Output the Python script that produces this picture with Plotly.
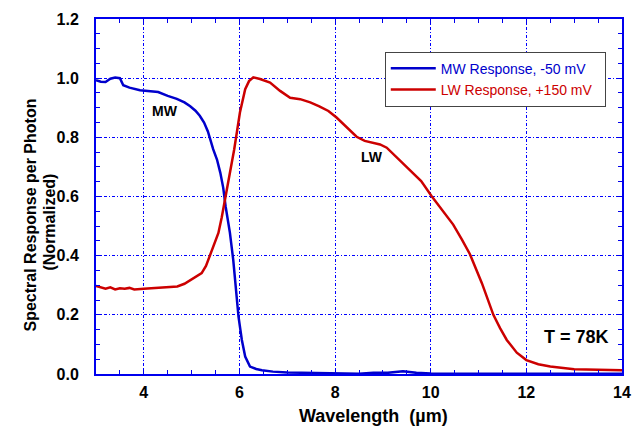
import plotly.graph_objects as go

# MW response (blue)
mw_x = [3.0, 3.1, 3.2, 3.3, 3.4, 3.5, 3.57, 3.7, 3.92, 4.1, 4.3, 4.5, 4.69, 4.85, 4.97,
        5.08, 5.17, 5.26, 5.34, 5.45, 5.53, 5.6, 5.66, 5.71, 5.80, 5.87, 5.92, 5.98,
        6.05, 6.12, 6.22, 6.35, 6.47, 6.7, 7.0, 7.5, 8.0, 8.5, 8.8, 9.1, 9.42, 9.7,
        10.0, 10.5, 11.0, 12.0, 13.0, 14.0]
mw_y = [0.993, 0.988, 0.987, 0.998, 1.002, 1.0, 0.976, 0.968, 0.959, 0.955, 0.953, 0.94,
        0.93, 0.918, 0.905, 0.89, 0.873, 0.85, 0.82, 0.76, 0.725, 0.68, 0.63, 0.567,
        0.478, 0.386, 0.285, 0.194, 0.115, 0.059, 0.025, 0.017, 0.013, 0.008, 0.005,
        0.003, 0.002, 0.001, 0.004, 0.004, 0.009, 0.004, 0.002, 0.001, 0.001, 0.001,
        0.001, 0.001]

# LW response (red)
lw_x = [3.0, 3.1, 3.2, 3.3, 3.4, 3.5, 3.6, 3.7, 3.8, 4.0, 4.2, 4.4, 4.6, 4.7, 4.85, 5.0,
        5.09, 5.21, 5.3, 5.38, 5.47, 5.56, 5.63, 5.70, 5.80, 5.89, 6.01, 6.12, 6.2, 6.29,
        6.43, 6.64, 6.85, 7.06, 7.27, 7.48, 7.67, 7.86, 8.03, 8.24, 8.45, 8.62, 8.78,
        8.94, 9.08, 9.29, 9.55, 9.80, 10.02, 10.25, 10.47, 10.65, 10.82, 11.07, 11.31,
        11.45, 11.59, 11.8, 12.0, 12.25, 12.5, 13.0, 13.5, 14.0]
lw_y = [0.298, 0.292, 0.288, 0.293, 0.286, 0.29, 0.288, 0.291, 0.286, 0.288, 0.29, 0.291,
        0.293, 0.296, 0.305, 0.32, 0.33, 0.341, 0.365, 0.398, 0.435, 0.477, 0.53, 0.59,
        0.68, 0.759, 0.884, 0.963, 0.99, 1.003, 0.997, 0.985, 0.957, 0.934, 0.929, 0.918,
        0.905, 0.889, 0.867, 0.833, 0.802, 0.788, 0.781, 0.776, 0.765, 0.731, 0.69, 0.652,
        0.601, 0.553, 0.505, 0.455, 0.405, 0.307, 0.2, 0.155, 0.115, 0.072, 0.047, 0.033,
        0.025, 0.016, 0.014, 0.013]

x_ticks = [4, 6, 8, 10, 12, 14]
y_ticks = [0.0, 0.2, 0.4, 0.6, 0.8, 1.0, 1.2]
y_tick_labels = ["0.0", "0.2", "0.4", "0.6", "0.8", "1.0", "1.2"]

FONT = "Arial, Liberation Sans, sans-serif"
BLUE = "#0000cc"
RED = "#cc0000"
AXIS_BLUE = "#0000ee"
GRID_BLUE = "#0000ff"

fig = go.Figure()
fig.add_trace(go.Scatter(x=mw_x, y=mw_y, mode="lines",
                         name=f"<span style='color:{BLUE}'>MW Response, -50 mV</span>&nbsp;&nbsp;",
                         line=dict(color=BLUE, width=2.5)))
fig.add_trace(go.Scatter(x=lw_x, y=lw_y, mode="lines",
                         name=f"<span style='color:{RED}'>LW Response, +150 mV</span>&nbsp;&nbsp;",
                         line=dict(color=RED, width=2.5)))

axis_common = dict(
    showline=True, linecolor=AXIS_BLUE, linewidth=2, mirror="ticks",
    ticks="inside", tickcolor=AXIS_BLUE, ticklen=5, tickwidth=1,
    showgrid=True, gridcolor=GRID_BLUE, griddash="3px,2px,1px,2px", gridwidth=1,
    zeroline=False, automargin=False,
    tickfont=dict(family=FONT, size=16, color="black", weight="bold"),
)

fig.update_xaxes(
    range=[3, 14], tickvals=x_ticks, ticklabelstandoff=3,
    minor=dict(dtick=0.5, ticks="inside", ticklen=4, tickcolor=AXIS_BLUE, showgrid=False),
    **axis_common,
)
fig.update_yaxes(
    range=[0, 1.2], tickvals=y_ticks, ticktext=y_tick_labels, ticklabelstandoff=12,
    minor=dict(dtick=0.05, ticks="inside", ticklen=4, tickcolor=AXIS_BLUE, showgrid=False),
    **axis_common,
)

# axis titles as paper-positioned text
fig.add_annotation(xref="paper", yref="paper", x=0.5285, y=-0.118,
                   text="Wavelength  (µm)", showarrow=False,
                   xanchor="center", yanchor="middle",
                   font=dict(family=FONT, size=18, color="black", weight="bold"))
fig.add_annotation(xref="paper", yref="paper", x=-0.1245, y=0.448,
                   text="Spectral Response per Photon", showarrow=False, textangle=-90,
                   xanchor="center", yanchor="middle",
                   font=dict(family=FONT, size=16, color="black", weight="bold"))
fig.add_annotation(xref="paper", yref="paper", x=-0.0885, y=0.428,
                   text="(Normalized)", showarrow=False, textangle=-90,
                   xanchor="center", yanchor="middle",
                   font=dict(family=FONT, size=16, color="black", weight="bold"))

fig.add_annotation(x=4.44, y=0.889, text="MW", showarrow=False,
                   font=dict(family=FONT, size=14, color="black", weight="bold"))
fig.add_annotation(x=8.77, y=0.733, text="LW", showarrow=False,
                   font=dict(family=FONT, size=14, color="black", weight="bold"))
fig.add_annotation(x=13.05, y=0.126, text="T = 78K", showarrow=False,
                   font=dict(family=FONT, size=18, color="black", weight="bold"))

fig.update_layout(
    width=642, height=428,
    margin=dict(l=96, r=20, t=19, b=54),
    paper_bgcolor="white", plot_bgcolor="white",
    showlegend=True,
    legend=dict(x=0.549, y=0.908, xanchor="left", yanchor="top",
                bgcolor="white", bordercolor="#444444", borderwidth=1,
                itemwidth=45,
                font=dict(family=FONT, size=14), tracegroupgap=0),
)

fig.write_html("out.html")
